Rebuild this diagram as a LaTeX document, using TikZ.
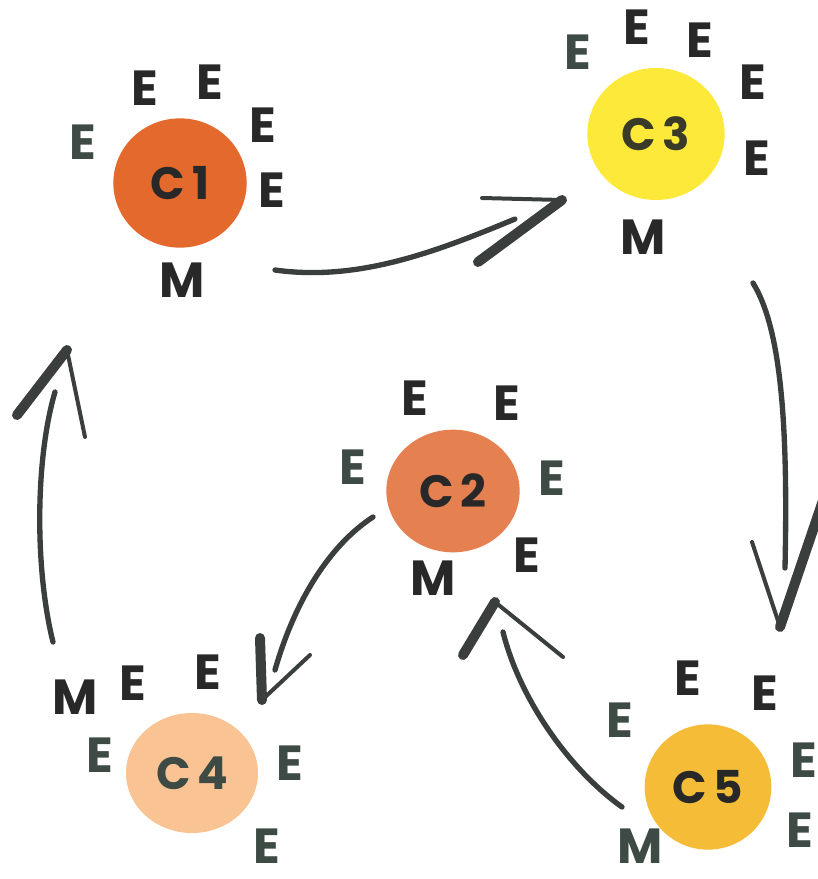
\documentclass[tikz,border=0pt]{standalone}
\usepackage{fontspec}
\setmainfont{Poppins}
\usetikzlibrary{shapes.geometric}

\definecolor{inkdark}{RGB}{40,40,40}
\definecolor{inkgreen}{RGB}{62,74,68}
\definecolor{penline}{RGB}{58,62,61}
\definecolor{cellone}{RGB}{227,105,44}
\definecolor{celltwo}{RGB}{229,128,80}
\definecolor{cellthree}{RGB}{253,233,58}
\definecolor{cellfour}{RGB}{249,195,147}
\definecolor{cellfive}{RGB}{245,188,56}

\tikzset{
  ebox/.style={inner sep=0pt, font=\fontsize{37}{37}\selectfont\bfseries, text=inkdark},
  egreen/.style={ebox, text=inkgreen},
  cellnode/.style={ellipse, inner sep=0pt, font=\fontsize{34}{34}\selectfont\bfseries, text=inkdark},
  shaft/.style={draw=penline, line width=4pt, line cap=round},
  thinarm/.style={draw=penline, line width=3pt, line cap=round},
  thickarm/.style={draw=penline, line width=7.5pt, line cap=round},
}

\begin{document}
\begin{tikzpicture}[x=0.75pt,y=0.75pt,yscale=-1,xscale=1]
\useasboundingbox (0,0) rectangle (818,879);

%Cells
\node [cellnode, fill=cellone, minimum width=100pt, minimum height=97pt] (c1) at (180,183) {C\kern5pt1};
\node [cellnode, fill=celltwo, minimum width=100pt, minimum height=92pt] (c2) at (453,491) {C\kern5pt2};
\node [cellnode, fill=cellthree, minimum width=103pt, minimum height=99pt, text={rgb,255:red,58;green,58;blue,40}] (c3) at (656,134) {C\kern5pt3};
\node [cellnode, fill=cellfour, minimum width=99pt, minimum height=90pt, text=inkgreen] (c4) at (192,773) {C\kern5pt4};
\node [cellnode, fill=cellfive, minimum width=95pt, minimum height=94pt] (c5) at (708,787) {C\kern5pt5};

% Text Node
\node [egreen] (c1e1) at (83,142) {E};
\node [ebox] (c1e2) at (145,88) {E};
\node [ebox] (c1e3) at (210,82) {E};
\node [ebox] (c1e4) at (263,125) {E};
\node [ebox] (c1e5) at (272,190) {E};
\node [ebox] (c1m) at (182,280) {M};
% Text Node
\node [egreen] (c3e1) at (578,52) {E};
\node [ebox] (c3e2) at (637,27) {E};
\node [ebox] (c3e3) at (700,40) {E};
\node [ebox] (c3e4) at (753,82) {E};
\node [ebox] (c3e5) at (757,158) {E};
\node [ebox] (c3m) at (643,237) {M};
% Text Node
\node [ebox] (c2e1) at (415,398) {E};
\node [ebox] (c2e2) at (507,403) {E};
\node [egreen] (c2e3) at (353,467) {E};
\node [egreen] (c2e4) at (552,478) {E};
\node [ebox] (c2e5) at (527,555) {E};
\node [ebox] (c2m) at (433,578) {M};
% Text Node
\node [ebox] (c4m) at (75,697) {M};
\node [ebox] (c4e1) at (133,683) {E};
\node [ebox] (c4e2) at (208,672) {E};
\node [egreen] (c4e3) at (100,755) {E};
\node [egreen] (c4e4) at (290,763) {E};
\node [egreen] (c4e5) at (267,846) {E};
% Text Node
\node [egreen] (c5e1) at (620,720) {E};
\node [ebox] (c5e2) at (688,678) {E};
\node [ebox] (c5e3) at (765,693) {E};
\node [egreen] (c5e4) at (804,760) {E};
\node [egreen] (c5e5) at (800,830) {E};
\node [egreen] (c5m) at (640,846) {M};

%Arrow ends
\coordinate (a1s) at (275,270);  \coordinate (a1e) at (515,219);
\coordinate (a2s) at (753,283);  \coordinate (a2e) at (785,568);
\coordinate (a3s) at (622,807);  \coordinate (a3e) at (503,632);
\coordinate (a4s) at (373,517);  \coordinate (a4e) at (275,670);
\coordinate (a5s) at (53,642);   \coordinate (a5e) at (55,392);

%Curves
\draw [shaft] (a1s) .. controls (360,282) and (440,250) .. (a1e);
\draw [shaft] (a2s) .. controls (782,330) and (788,430) .. (a2e);
\draw [shaft] (a3s) .. controls (570,770) and (520,700) .. (a3e);
\draw [shaft] (a4s) .. controls (330,545) and (295,600) .. (a4e);
\draw [shaft] (a5s) .. controls (35,570) and (35,460) .. (a5e);

%Heads
\draw [thinarm] (482,198) -- (562,200);  \draw [thickarm] (562,200) -- (478,262);
\draw [thinarm] (752,542) -- (780,627);  \draw [thickarm] (780,627) -- (830,480);
\draw [thickarm] (463,655) -- (495,602); \draw [thinarm] (495,602) -- (563,657);
\draw [thickarm] (260,638) -- (262,700); \draw [thinarm] (262,700) -- (310,655);
\draw [thickarm] (17,415) -- (67,350);   \draw [thinarm] (67,350) -- (85,437);

\end{tikzpicture}
\end{document}
